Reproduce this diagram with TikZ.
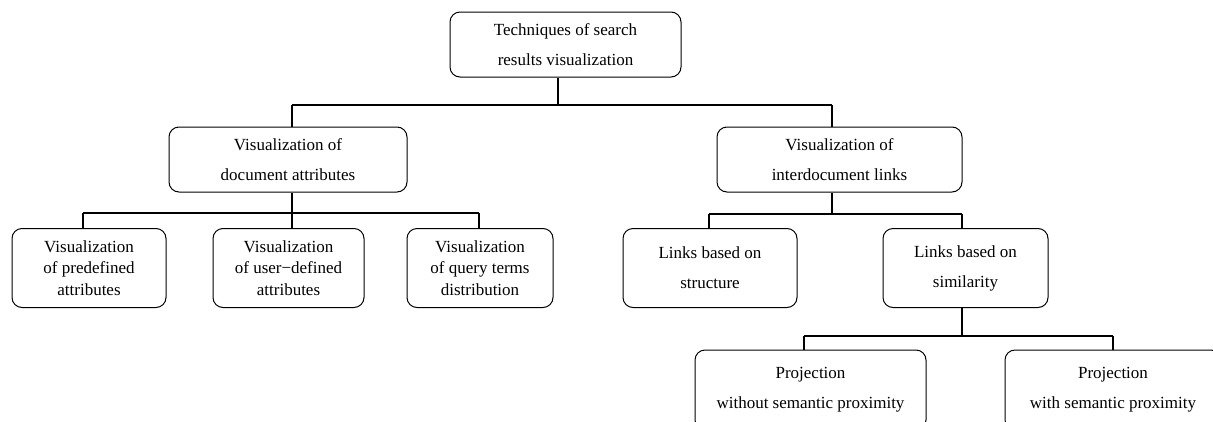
\documentclass[tikz,border=0pt]{standalone}
\usepackage{fontspec}
\setmainfont{Liberation Serif}
\begin{document}
\begin{tikzpicture}[x=0.6pt,y=-0.6pt,
  box/.style={draw, line width=0.6pt, rounded corners=6pt, align=center, inner sep=0pt,
    font=\fontsize{10.2}{18}\selectfont},
  boxthree/.style={box, font=\fontsize{10.2}{12.9}\selectfont},
  conn/.style={draw, line width=0.75pt}]
\useasboundingbox (0,0) rectangle (1213,421);
\clip (0,0) rectangle (1213,421);
% nodes
\node[box, minimum width=138.6pt, minimum height=39pt] (top) at (565.5,44.5) {Techniques of search\\results visualization};
\node[box, minimum width=142.8pt, minimum height=39pt] (doc) at (288,159.5) {Visualization of\\document attributes};
\node[box, minimum width=147pt, minimum height=39pt] (links) at (839.5,159.5) {Visualization of\\interdocument links};
\node[boxthree, minimum width=92.4pt, minimum height=47.4pt] (pre) at (89,268) {Visualization\\of predefined\\attributes};
\node[boxthree, minimum width=90.6pt, minimum height=47.4pt] (user) at (288.5,268) {Visualization\\of user−defined\\attributes};
\node[boxthree, minimum width=87.6pt, minimum height=47.4pt] (query) at (480,268) {Visualization\\of query terms\\distribution};
\node[box, minimum width=104.4pt, minimum height=47.4pt] (struct) at (710,268) {Links based on\\structure};
\node[box, minimum width=99pt, minimum height=47.4pt] (sim) at (965.5,268) {Links based on\\similarity};
\node[box, minimum width=138.6pt, minimum height=48pt] (without) at (810.5,390) {Projection\\without semantic proximity};
\node[box, minimum width=129.6pt, minimum height=48pt] (with) at (1113,390) {Projection\\with semantic proximity};
% junctions
\coordinate (t0) at (558,105);
\coordinate (h1) at (292,105);
\coordinate (h2) at (832,105);
\coordinate (d0) at (292,213);
\coordinate (d1) at (83,213);
\coordinate (d3) at (479,213);
\coordinate (l0) at (832,214);
\coordinate (l1) at (709,214);
\coordinate (l2) at (962,214);
\coordinate (s0) at (962,336);
\coordinate (s1) at (804,336);
\coordinate (s2) at (1113,336);
% connectors
\path[conn] (top.south -| t0) -- (t0);
\path[conn] (h1) -- (h2);
\path[conn] (h1) -- (doc.north -| h1);
\path[conn] (h2) -- (links.north -| h2);
\path[conn] (doc.south -| d0) -- (d0);
\path[conn] (d1) -- (d3);
\path[conn] (d1) -- (pre.north -| d1);
\path[conn] (d0) -- (user.north -| d0);
\path[conn] (d3) -- (query.north -| d3);
\path[conn] (links.south -| l0) -- (l0);
\path[conn] (l1) -- (l2);
\path[conn] (l1) -- (struct.north -| l1);
\path[conn] (l2) -- (sim.north -| l2);
\path[conn] (sim.south -| s0) -- (s0);
\path[conn] (s1) -- (s2);
\path[conn] (s1) -- (without.north -| s1);
\path[conn] (s2) -- (with.north -| s2);
\end{tikzpicture}
\end{document}
